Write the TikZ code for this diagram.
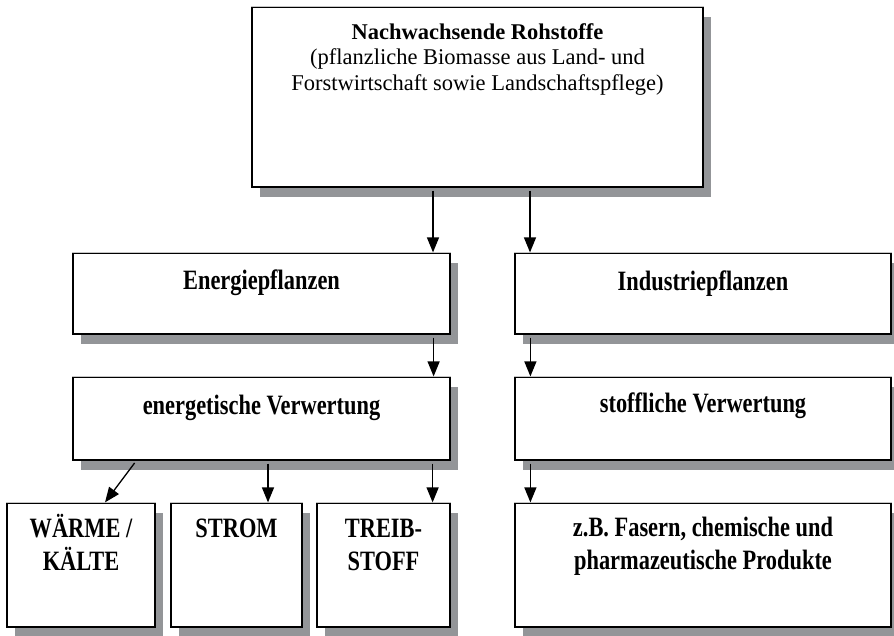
\documentclass[tikz,border=0pt]{standalone}
\usepackage{fontspec}
\setmainfont{Liberation Serif}
\newfontfamily\schmal{Liberation Serif}[FakeStretch=0.8]
\usetikzlibrary{shadows, positioning, arrows.meta}
\definecolor{schattengrau}{RGB}{147,149,152}

\begin{document}
\begin{tikzpicture}[x=1pt, y=-1pt, line width=1.2pt]
\tikzset{
  kasten/.style={draw=black, fill=white, inner sep=0pt, drop shadow={shadow xshift=8pt, shadow yshift=-10pt, fill=schattengrau, opacity=1}},
  gross/.style={font=\schmal\bfseries\fontsize{28}{33}\selectfont, align=center, inner sep=0pt, anchor=base},
  klein/.style={font=\fontsize{22.5}{25.5}\selectfont, align=center, inner sep=0pt, anchor=base},
  pfeil/.style={-{Triangle[length=15pt, width=12pt]}, line width=1.3pt, shorten <=3pt},
  oberkante/.style={draw=gray!45, line width=1.2pt}
}
\useasboundingbox (0,0) rectangle (894,636);
% Boxes
\node[kasten, minimum width=451pt, minimum height=180pt] (roh) at (477.5,97) {};
\node[kasten, minimum width=377pt, minimum height=81pt] (energie) at (261.5,293.5) {};
\node[kasten, minimum width=376pt, minimum height=81pt] (industrie) at (703,293.5) {};
\node[kasten, minimum width=377pt, minimum height=83pt] (energet) at (261.5,418.5) {};
\node[kasten, minimum width=376pt, minimum height=83pt] (stoff) at (703,418.5) {};
\node[kasten, minimum width=148pt, minimum height=124pt] (waerme) at (81,565) {};
\node[kasten, minimum width=131pt, minimum height=124pt] (strom) at (236.5,565) {};
\node[kasten, minimum width=133pt, minimum height=124pt] (treib) at (383.5,565) {};
\node[kasten, minimum width=376pt, minimum height=124pt] (produkte) at (703,565) {};
\foreach \n in {roh,energie,industrie,energet,stoff,waerme,strom,treib,produkte}
  \draw[oberkante] (\n.north west) -- (\n.north east);
% Texts (base = last line)
\node[klein] (roh-t) at ([yshift=-84pt]roh.north) {\textbf{Nachwachsende Rohstoffe}\\(pflanzliche Biomasse aus Land- und\\Forstwirtschaft sowie Landschaftspflege)};
\node[gross] (energie-t) at ([yshift=-37pt]energie.north) {Energiepflanzen};
\node[gross] (industrie-t) at ([yshift=-38pt]industrie.north) {Industriepflanzen};
\node[gross] (energet-t) at ([yshift=-38pt]energet.north) {energetische Verwertung};
\node[gross] (stoff-t) at ([yshift=-36pt]stoff.north) {stoffliche Verwertung};
\node[gross] (waerme-t) at ([yshift=-68pt]waerme.north) {WÄRME /\\KÄLTE};
\node[gross] (strom-t) at ([yshift=-35pt]strom.north) {STROM};
\node[gross] (treib-t) at ([yshift=-68pt]treib.north) {TREIB-\\STOFF};
\node[gross] (produkte-t) at ([yshift=-67pt]produkte.north) {z.B. Fasern, chemische und\\pharmazeutische Produkte};
% Arrows
\draw[pfeil] ([xshift=-44.5pt]roh.south) -- ([xshift=-44.5pt]roh.south |- energie.north);
\draw[pfeil] ([xshift=52.5pt]roh.south) -- ([xshift=52.5pt]roh.south |- industrie.north);
\draw[pfeil] ([xshift=-17pt]energie.south east) -- ([xshift=-17pt]energie.south east |- energet.north);
\draw[pfeil] ([xshift=16pt]industrie.south west) -- ([xshift=16pt]industrie.south west |- stoff.north);
\draw[pfeil] ([xshift=16pt]stoff.south west) -- ([xshift=16pt]stoff.south west |- produkte.north);
\draw[pfeil] ([xshift=64pt]energet.south west) -- ([xshift=24pt]waerme.north);
\draw[pfeil] ([xshift=31.5pt]strom.north |- energet.south) -- ([xshift=31.5pt]strom.north);
\draw[pfeil] ([xshift=-18pt]energet.south east) -- ([xshift=-18pt]energet.south east |- treib.north);
\end{tikzpicture}
\end{document}
